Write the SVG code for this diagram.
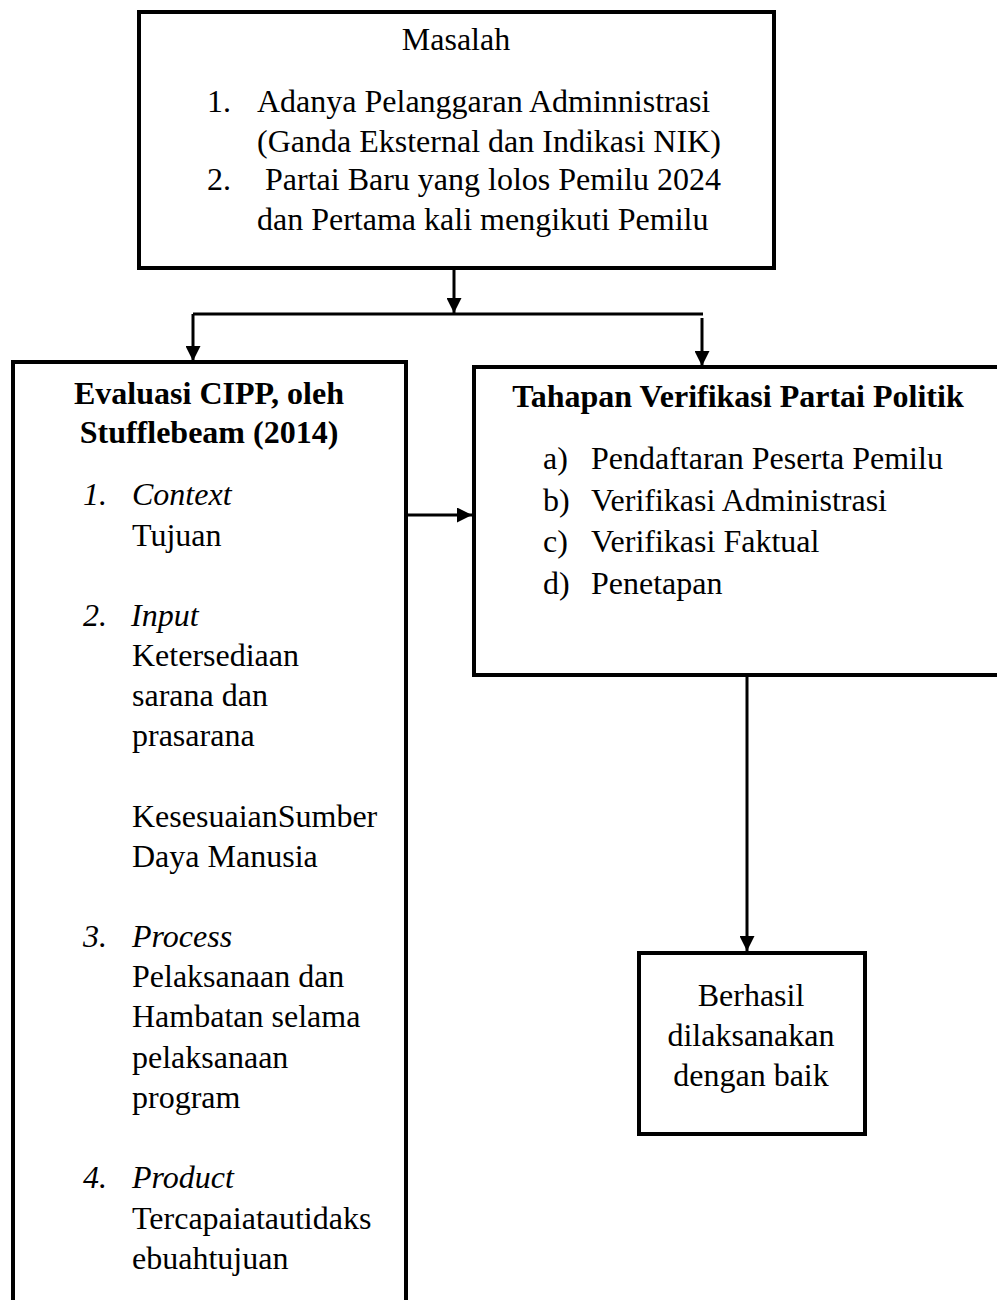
<svg xmlns="http://www.w3.org/2000/svg" width="997" height="1300" viewBox="0 0 997 1300">
<defs>
<marker id="arr" viewBox="0 0 10 10" refX="10" refY="5" markerWidth="15" markerHeight="15" markerUnits="userSpaceOnUse" orient="auto">
<path d="M0,0 L10,5 L0,10 z" fill="#000"/>
</marker>
<style>
.box{fill:#fff;stroke:#000;stroke-width:4}
.con{fill:none;stroke:#000;stroke-width:3}
.arr{marker-end:url(#arr)}
.b{font-weight:bold}
.i{font-style:italic}
.m{text-anchor:middle}
</style>
</defs>
<rect width="997" height="1300" fill="#fff"/>

<g id="connectors">
<path class="con arr" d="M454,270 V313"/>
<path class="con" d="M193,314 H703"/>
<path class="con arr" d="M193,314 V361"/>
<path class="con arr" d="M702,318 V366"/>
<path class="con arr" d="M407,515 H472"/>
<path class="con arr" d="M747,675 V951"/>
</g>

<g id="masalah">
<rect class="box" x="139" y="12" width="635" height="256"/>
<text class="m" x="456" y="50" font-family="Liberation Serif" font-size="32">Masalah</text>
<text x="207" y="112" font-family="Liberation Serif" font-size="32">1.</text>
<text x="257" y="112" font-family="Liberation Serif" font-size="32">Adanya Pelanggaran Adminnistrasi</text>
<text x="257" y="152" font-family="Liberation Serif" font-size="32">(Ganda Eksternal dan Indikasi NIK)</text>
<text x="207" y="190" font-family="Liberation Serif" font-size="32">2.</text>
<text x="265" y="190" font-family="Liberation Serif" font-size="32">Partai Baru yang lolos Pemilu 2024</text>
<text x="257" y="230" font-family="Liberation Serif" font-size="32">dan Pertama kali mengikuti Pemilu</text>
</g>

<g id="cipp">
<rect class="box" x="13" y="362" width="393" height="960"/>
<text class="b m" x="209" y="404" font-family="Liberation Serif" font-size="32">Evaluasi CIPP, oleh</text>
<text class="b m" x="209" y="443" font-family="Liberation Serif" font-size="32">Stufflebeam (2014)</text>
<text class="i" x="83" y="505" font-family="Liberation Serif" font-size="32">1.</text>
<text class="i" x="132" y="505" font-family="Liberation Serif" font-size="32">Context</text>
<text x="132" y="546" font-family="Liberation Serif" font-size="32">Tujuan</text>
<text class="i" x="83" y="626" font-family="Liberation Serif" font-size="32">2.</text>
<text class="i" x="131" y="626" font-family="Liberation Serif" font-size="32">Input</text>
<text x="132" y="666" font-family="Liberation Serif" font-size="32">Ketersediaan</text>
<text x="132" y="706" font-family="Liberation Serif" font-size="32">sarana dan</text>
<text x="132" y="746" font-family="Liberation Serif" font-size="32">prasarana</text>
<text x="132" y="827" font-family="Liberation Serif" font-size="32">KesesuaianSumber</text>
<text x="132" y="867" font-family="Liberation Serif" font-size="32">Daya Manusia</text>
<text class="i" x="83" y="947" font-family="Liberation Serif" font-size="32">3.</text>
<text class="i" x="132" y="947" font-family="Liberation Serif" font-size="32">Process</text>
<text x="132" y="987" font-family="Liberation Serif" font-size="32">Pelaksanaan dan</text>
<text x="132" y="1027" font-family="Liberation Serif" font-size="32">Hambatan selama</text>
<text x="132" y="1068" font-family="Liberation Serif" font-size="32">pelaksanaan</text>
<text x="132" y="1108" font-family="Liberation Serif" font-size="32">program</text>
<text class="i" x="83" y="1188" font-family="Liberation Serif" font-size="32">4.</text>
<text class="i" x="132" y="1188" font-family="Liberation Serif" font-size="32">Product</text>
<text x="132" y="1229" font-family="Liberation Serif" font-size="32">Tercapaiatautidaks</text>
<text x="132" y="1269" font-family="Liberation Serif" font-size="32">ebuahtujuan</text>
</g>

<g id="tahapan">
<rect class="box" x="474" y="367" width="540" height="308"/>
<text class="b m" x="738" y="407" font-family="Liberation Serif" font-size="32">Tahapan Verifikasi Partai Politik</text>
<text x="543" y="469" font-family="Liberation Serif" font-size="32">a)</text>
<text x="591" y="469" font-family="Liberation Serif" font-size="32">Pendaftaran Peserta Pemilu</text>
<text x="543" y="511" font-family="Liberation Serif" font-size="32">b)</text>
<text x="591" y="511" font-family="Liberation Serif" font-size="32">Verifikasi Administrasi</text>
<text x="543" y="552" font-family="Liberation Serif" font-size="32">c)</text>
<text x="591" y="552" font-family="Liberation Serif" font-size="32">Verifikasi Faktual</text>
<text x="543" y="594" font-family="Liberation Serif" font-size="32">d)</text>
<text x="591" y="594" font-family="Liberation Serif" font-size="32">Penetapan</text>
</g>

<g id="berhasil">
<rect class="box" x="639" y="953" width="226" height="181"/>
<text class="m" x="751" y="1006" font-family="Liberation Serif" font-size="32">Berhasil</text>
<text class="m" x="751" y="1046" font-family="Liberation Serif" font-size="32">dilaksanakan</text>
<text class="m" x="751" y="1086" font-family="Liberation Serif" font-size="32">dengan baik</text>
</g>
</svg>
